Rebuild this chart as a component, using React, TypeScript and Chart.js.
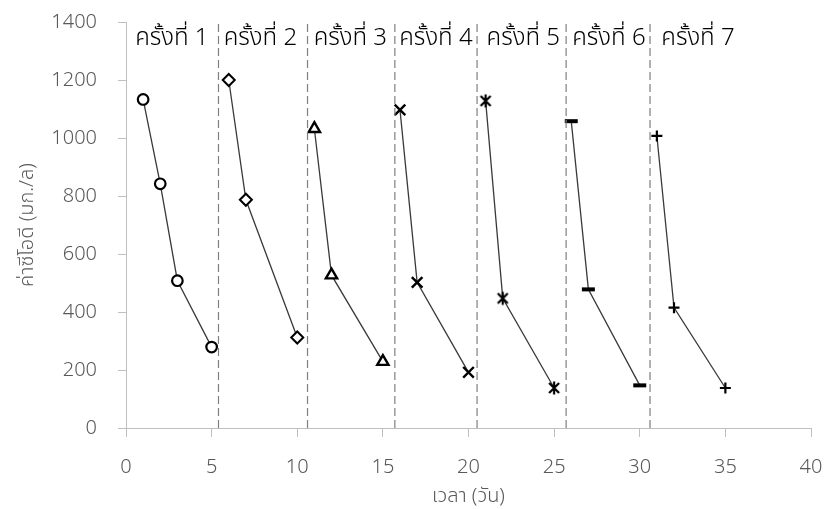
import { useEffect, useRef } from "react";
import { Chart, registerables } from "chart.js";

Chart.register(...registerables);

// Days and COD readings (mg/L) for each treatment round
const daysRound1 = [1, 2, 3, 5];
const codRound1 = [1133, 842, 508, 279];
const daysRound2 = [6, 7, 10];
const codRound2 = [1200, 787, 312];
const daysRound3 = [11, 12, 15];
const codRound3 = [1032, 527, 229];
const daysRound4 = [16, 17, 20];
const codRound4 = [1097, 502, 192];
const daysRound5 = [21, 22, 25];
const codRound5 = [1128, 447, 138];
const daysRound6 = [26, 27, 30];
const codRound6 = [1058, 478, 147];
const daysRound7 = [31, 32, 35];
const codRound7 = [1007, 415, 138];

// Dashed dividers between rounds (day values)
const dividerDays = [5.4, 10.6, 15.7, 20.5, 25.7, 30.6];

// Round captions and where they sit (day / COD of the text baseline)
const roundLabels = ["ครั้งที่ 1", "ครั้งที่ 2", "ครั้งที่ 3", "ครั้งที่ 4", "ครั้งที่ 5", "ครั้งที่ 6", "ครั้งที่ 7"];
const roundLabelDays = [2.68, 7.85, 13.1, 18.1, 23.2, 28.2, 33.4];
const roundLabelCod = 1320;

// Axis ranges
const xMin = 0;
const xMax = 40;
const xStep = 5;
const yMin = 0;
const yMax = 1400;
const yStep = 200;

const xTitle = "เวลา (วัน)";
const yTitle = "ค่าซีโอดี (มก./ล)";

const FONT = '"Noto Sans", "Noto Sans Thai", "Open Sans", sans-serif';

function toPoints(xs: number[], ys: number[]) {
  return xs.map((x, i) => ({ x, y: ys[i] }));
}

// Asterisk marker: an X with a vertical stroke through it
function makeAsterisk(): HTMLCanvasElement {
  const c = document.createElement("canvas");
  c.width = 16;
  c.height = 16;
  const g = c.getContext("2d")!;
  g.strokeStyle = "#000";
  g.lineWidth = 2.2;
  g.beginPath();
  g.moveTo(3, 3);
  g.lineTo(13, 13);
  g.moveTo(13, 3);
  g.lineTo(3, 13);
  g.moveTo(8, 1.5);
  g.lineTo(8, 14.5);
  g.stroke();
  return c;
}

const roundLabelPlugin = {
  id: "roundLabels",
  afterDatasetsDraw(chart: any) {
    const { ctx, scales } = chart;
    const x = scales.x;
    const y = scales.y;
    ctx.save();
    ctx.font = `300 24px ${FONT}`;
    ctx.fillStyle = "#000";
    ctx.textAlign = "center";
    ctx.textBaseline = "alphabetic";
    roundLabels.forEach((t, i) => {
      ctx.fillText(t, x.getPixelForValue(roundLabelDays[i]), y.getPixelForValue(roundLabelCod));
    });
    ctx.restore();
  },
};

export default function App() {
  const ref = useRef<HTMLCanvasElement | null>(null);

  useEffect(() => {
    if (!ref.current) return;
    const lineColor = "#3a3a3a";
    const series = (xs: number[], ys: number[], style: any, extra: any = {}) => ({
      data: toPoints(xs, ys),
      showLine: true,
      borderColor: lineColor,
      borderWidth: 1.3,
      pointStyle: style,
      pointBorderColor: "#000",
      pointBackgroundColor: "#fff",
      pointRadius: 6,
      pointBorderWidth: 2,
      ...extra,
    });

    const dividers = dividerDays.map((d) => ({
      data: [
        { x: d, y: yMin },
        { x: d, y: yMax },
      ],
      showLine: true,
      borderColor: "#7f7f7f",
      borderWidth: 1.2,
      borderDash: [8, 4],
      pointRadius: 0,
    }));

    const tickFont = { family: FONT, size: 20, weight: 300 };

    const chart = new Chart(ref.current, {
      type: "scatter",
      data: {
        datasets: [
          ...dividers,
          series(daysRound1, codRound1, "circle", { pointRadius: 5.3, pointBorderWidth: 2.2 }),
          series(daysRound2, codRound2, "rectRot", { pointRadius: 6 }),
          series(daysRound3, codRound3, "triangle", { pointRadius: 6.5, pointBorderWidth: 2.4 }),
          series(daysRound4, codRound4, "crossRot", { pointRadius: 7.5, pointBorderWidth: 2.4 }),
          series(daysRound5, codRound5, makeAsterisk()),
          series(daysRound6, codRound6, "line", { pointRadius: 6.5, pointBorderWidth: 4 }),
          series(daysRound7, codRound7, "cross", { pointRadius: 5.5, pointBorderWidth: 2.2 }),
        ] as any,
      },
      plugins: [roundLabelPlugin],
      options: {
        animation: false,
        responsive: false,
        devicePixelRatio: 1,
        layout: { padding: { left: 0, right: 16, top: 22, bottom: 0 } },
        plugins: {
          legend: { display: false },
          tooltip: { enabled: false },
        },
        scales: {
          x: {
            type: "linear",
            min: xMin,
            max: xMax,
            ticks: {
              stepSize: xStep,
              color: "#595959",
              font: tickFont,
              padding: 18,
              callback: (v: any) => String(v),
            },
            grid: { drawOnChartArea: false, drawTicks: true, tickLength: 9, color: "#bfbfbf" },
            border: { color: "#bfbfbf", width: 1 },
            title: {
              display: true,
              text: xTitle,
              color: "#595959",
              font: tickFont,
              padding: { top: 0, bottom: 1 },
            },
            afterFit: (scale: any) => {
              scale.height = 81;
              scale.paddingLeft = 0;
              scale.paddingRight = 0;
            },
          },
          y: {
            type: "linear",
            min: yMin,
            max: yMax,
            ticks: {
              stepSize: yStep,
              color: "#595959",
              font: tickFont,
              padding: 21,
              callback: (v: any) => String(v),
            },
            grid: { drawOnChartArea: false, drawTicks: true, tickLength: 8, color: "#bfbfbf" },
            border: { color: "#bfbfbf", width: 1 },
            title: {
              display: true,
              text: yTitle,
              color: "#595959",
              font: tickFont,
              padding: { top: 15, bottom: 0 },
            },
            afterFit: (scale: any) => {
              scale.width = 126;
              scale.paddingTop = 0;
              scale.paddingBottom = 0;
            },
          },
        },
      } as any,
    });
    return () => chart.destroy();
  }, []);

  return (
    <div style={{ position: "absolute", left: 0, top: 0, width: 827, height: 509, background: "#fff" }}>
      <canvas ref={ref} width={827} height={509} style={{ display: "block" }} />
    </div>
  );
}
